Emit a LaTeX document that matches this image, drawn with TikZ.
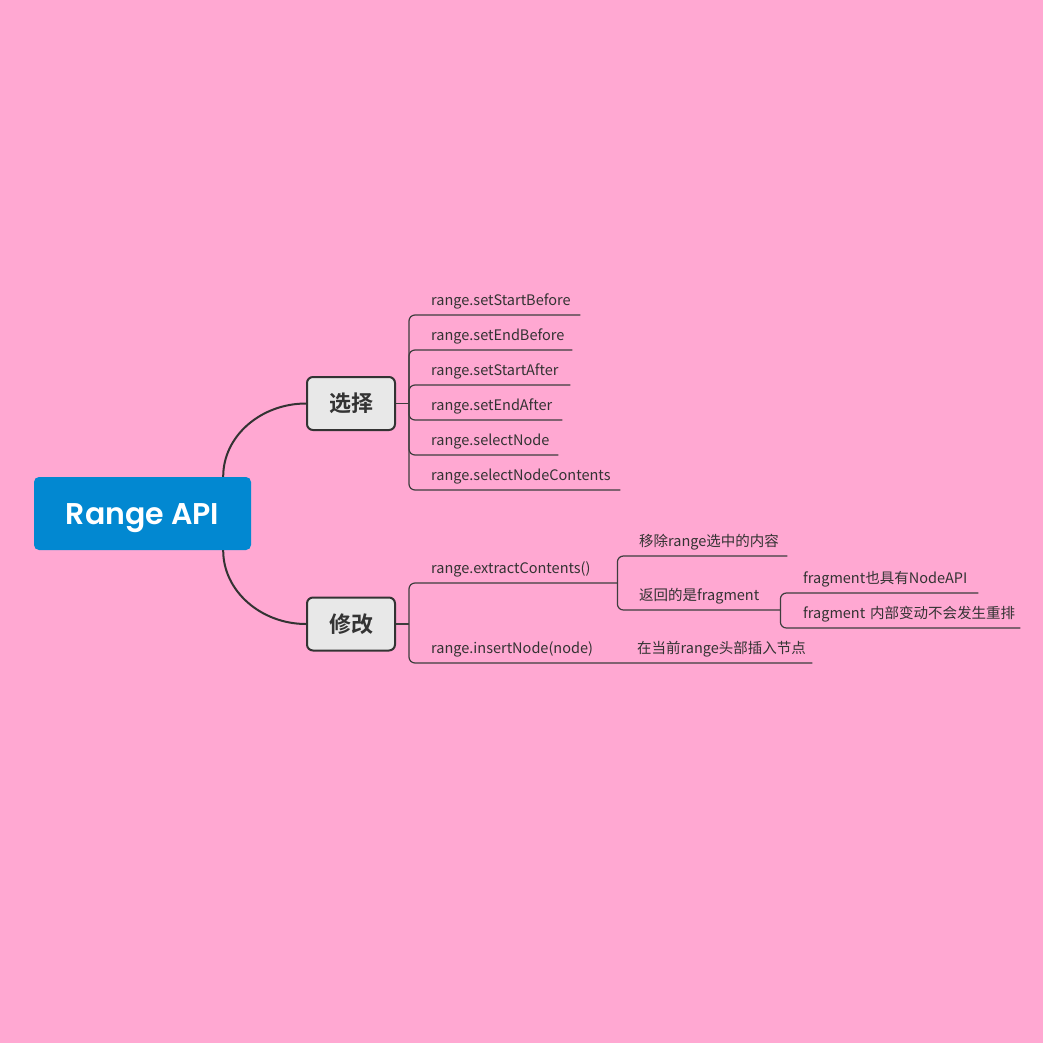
\documentclass[tikz,border=0pt]{standalone}
\usepackage{fontspec}
\setmainfont{Noto Sans CJK SC}[BoldFont={Noto Sans CJK SC Bold}]
\newfontfamily\rootfont{Poppins}[BoldFont={Poppins SemiBold}]
\definecolor{bg}{HTML}{FFA8D2}
\definecolor{rootblue}{HTML}{0288D1}
\definecolor{ink}{HTML}{333333}
\definecolor{subfill}{HTML}{E8E8E8}
\tikzset{
  rootbox/.style={fill=rootblue, rounded corners=5pt, minimum width=217pt, minimum height=73pt, inner sep=0pt, text height=21pt, text depth=0pt, text=white, font=\rootfont\fontsize{30}{34}\selectfont\bfseries},
  subbox/.style={draw=ink, line width=2pt, fill=subfill, rounded corners=6pt, minimum width=88pt, minimum height=53pt, inner sep=0pt, text=ink, font=\fontsize{22}{26}\selectfont\bfseries},
  leaf/.style={anchor=south west, inner xsep=9pt, inner ysep=5pt, text height=11pt, text depth=4pt, align=left, text=ink, font=\fontsize{14.5}{17}\selectfont},
  mainline/.style={draw=ink, line width=2pt},
  branch/.style={draw=ink!95, line width=1.2pt, rounded corners=6pt},
}
\begin{document}
\begin{tikzpicture}[x=1pt, y=-1pt]
\path[use as bounding box, fill=bg] (0,0) rectangle (1043,1043);

\node[rootbox] (root) at (142.5,513.5) {Range API};
\node[subbox] (sel) at (351,403.5) {选择};
\node[subbox] (mod) at (351,624) {修改};

\draw[mainline] ([xshift=-28pt]root.north east) .. controls (223,436) and (261,403.5) .. (sel.west);
\draw[mainline] ([xshift=-28pt]root.south east) .. controls (223,591) and (261,624) .. (mod.west);

% 选择 leaves
\node[leaf, text width=140pt] (a1) at (422,315) {range.setStartBefore};
\node[leaf, text width=132pt] (a2) at (422,350) {range.setEndBefore};
\node[leaf, text width=130pt] (a3) at (422,385) {range.setStartAfter};
\node[leaf, text width=122pt] (a4) at (422,420) {range.setEndAfter};
\node[leaf, text width=118pt] (a5) at (422,455) {range.selectNode};
\node[leaf, text width=180pt] (a6) at (422,490) {range.selectNodeContents};

\coordinate (js) at (409,403.5);
\draw[branch] (sel.east) -- (js);
\foreach \n in {a1,a2,a3,a4,a5,a6}{
  \draw[branch] (js) |- (\n.south east);
}

% 修改 leaves
\coordinate (jm) at (409,624);
\draw[branch] (mod.east) -- (jm);
\node[leaf, text width=177pt] (b1) at (422,583) {range.extractContents()};
\node[leaf, text width=160pt] (b2) at (422,663) {range.insertNode(node)};
\node[leaf, text width=166pt] (e1) at (628,663) {在当前range头部插入节点};
\draw[branch] (jm) |- (b1.south east);
\draw[branch] (jm) |- (b2.south east) -- (e1.south east);

\node[leaf, text width=139pt] (c1) at (630,556) {移除range选中的内容};
\node[leaf, text width=132pt] (c2) at (630,610) {返回的是fragment};
\draw[branch] (b1.south east) |- (c1.south east);
\draw[branch] (b1.south east) |- (c2.south east);

\node[leaf, text width=166pt] (d1) at (794,593) {fragment也具有NodeAPI};
\node[leaf, text width=208pt] (d2) at (794,628) {\mbox{fragment 内部变动不会发生重排}};
\draw[branch] (c2.south east) |- (d1.south east);
\draw[branch] (c2.south east) |- (d2.south east);
\end{tikzpicture}
\end{document}
